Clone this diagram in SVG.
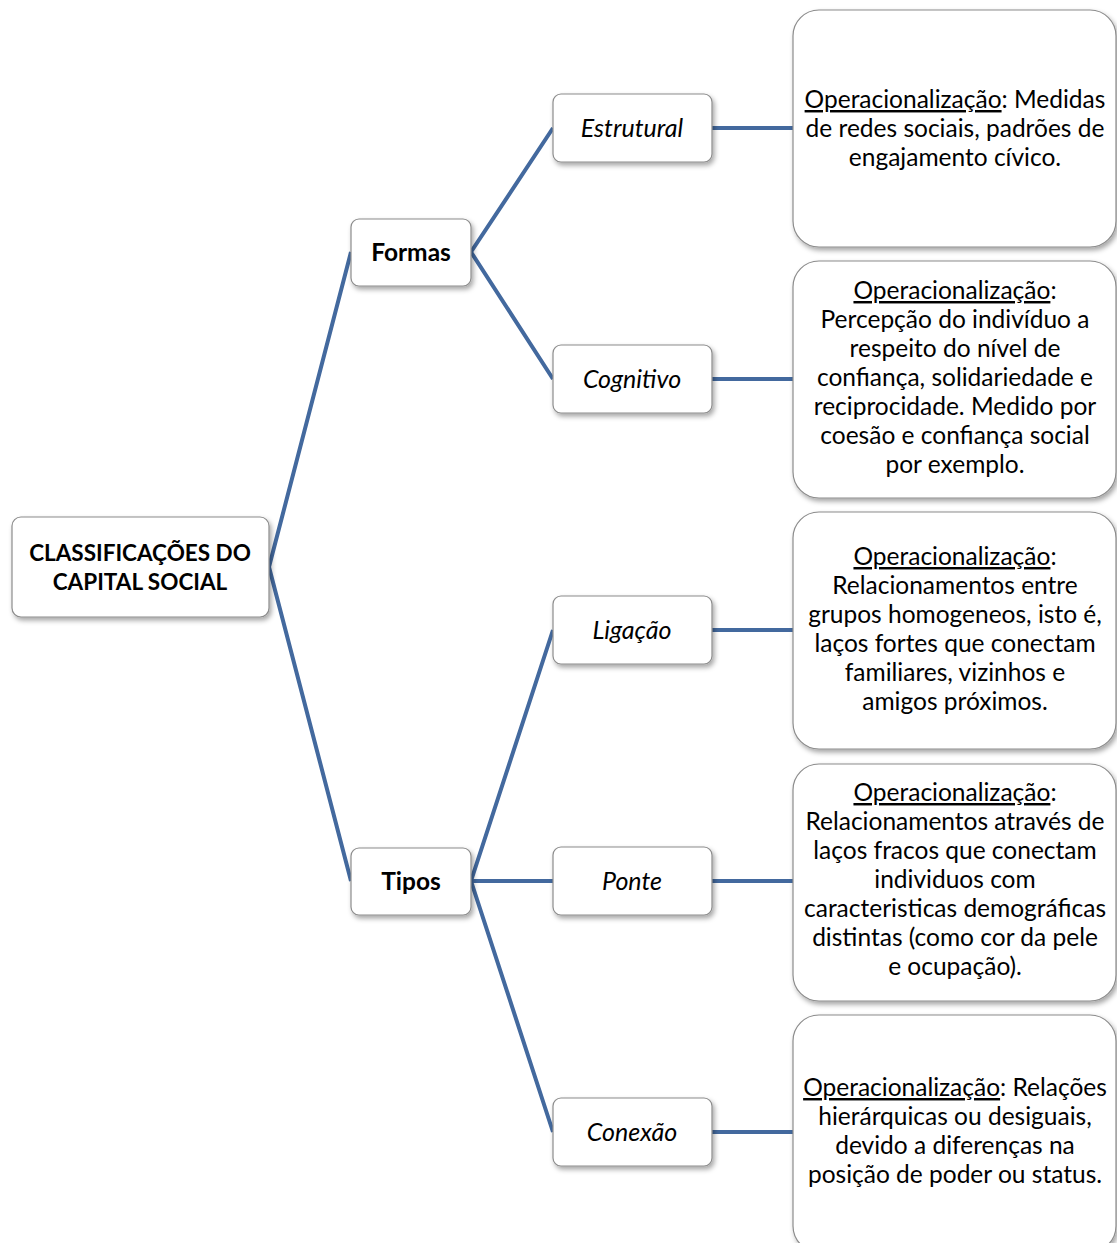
<svg xmlns="http://www.w3.org/2000/svg" width="1117" height="1243" viewBox="0 0 1117 1243">
<style>
.box{fill:#ffffff;stroke:#8c8c8c;stroke-width:1.2;filter:url(#sh)}
.t{font-family:Lato,"Liberation Sans",sans-serif;font-size:24.5px;fill:#000;text-anchor:middle}
.b{font-weight:bold}
.r{font-size:22.5px}
.m{font-size:24.5px}
.i{font-style:italic;font-size:25px}
.u{text-decoration:underline}
.c{fill:none;stroke:#43699E;stroke-width:4;stroke-linejoin:miter}
</style>
<defs>
<filter id="sh" x="-10%" y="-10%" width="130%" height="130%">
<feDropShadow dx="2" dy="3" stdDeviation="2.5" flood-color="#000" flood-opacity="0.35"/>
</filter>
</defs>
<rect width="1117" height="1243" fill="#ffffff"/>
<g id="connectors">
<polyline class="c" points="351,252 269,567 351,881"/>
<polyline class="c" points="553,128 471,252 553,379"/>
<polyline class="c" points="553,630 471,881 553,1132"/>
<line class="c" x1="471" y1="881" x2="553" y2="881"/>
<line class="c" x1="712" y1="128" x2="793" y2="128"/>
<line class="c" x1="712" y1="379" x2="793" y2="379"/>
<line class="c" x1="712" y1="630" x2="793" y2="630"/>
<line class="c" x1="712" y1="881" x2="793" y2="881"/>
<line class="c" x1="712" y1="1132" x2="793" y2="1132"/>
</g>
<g id="root">
<rect class="box" x="12" y="517" width="257" height="100" rx="9"/>
<text class="t b r" x="140" y="561">CLASSIFICAÇÕES DO</text>
<text class="t b r" x="140" y="590">CAPITAL SOCIAL</text>
</g>
<g id="formas">
<rect class="box" x="351" y="219" width="120" height="67" rx="8"/>
<text class="t b m" x="411" y="261">Formas</text>
</g>
<g id="tipos">
<rect class="box" x="351" y="848" width="120" height="67" rx="8"/>
<text class="t b m" x="411" y="890">Tipos</text>
</g>
<g id="estrutural">
<rect class="box" x="553" y="94" width="159" height="68" rx="8"/>
<text class="t i" x="632" y="137">Estrutural</text>
</g>
<g id="cognitivo">
<rect class="box" x="553" y="345" width="159" height="68" rx="8"/>
<text class="t i" x="632" y="388">Cognitivo</text>
</g>
<g id="ligacao">
<rect class="box" x="553" y="596" width="159" height="68" rx="8"/>
<text class="t i" x="632" y="639">Ligação</text>
</g>
<g id="ponte">
<rect class="box" x="553" y="847" width="159" height="68" rx="8"/>
<text class="t i" x="632" y="890">Ponte</text>
</g>
<g id="conexao">
<rect class="box" x="553" y="1098" width="159" height="68" rx="8"/>
<text class="t i" x="632" y="1141">Conexão</text>
</g>
<g id="op-estrutural">
<rect class="box" x="793" y="10" width="323" height="237" rx="26"/>
<text class="t" x="955" y="108"><tspan class="u">Operacionalização</tspan>: Medidas</text>
<text class="t" x="955" y="137">de redes sociais, padrões de</text>
<text class="t" x="955" y="166">engajamento cívico.</text>
</g>
<g id="op-cognitivo">
<rect class="box" x="793" y="261" width="323" height="237" rx="26"/>
<text class="t" x="955" y="299"><tspan class="u">Operacionalização</tspan>:</text>
<text class="t" x="955" y="328">Percepção do indivíduo a</text>
<text class="t" x="955" y="357">respeito do nível de</text>
<text class="t" x="955" y="386">confiança, solidariedade e</text>
<text class="t" x="955" y="415">reciprocidade. Medido por</text>
<text class="t" x="955" y="444">coesão e confiança social</text>
<text class="t" x="955" y="473">por exemplo.</text>
</g>
<g id="op-ligacao">
<rect class="box" x="793" y="512" width="323" height="237" rx="26"/>
<text class="t" x="955" y="565"><tspan class="u">Operacionalização</tspan>:</text>
<text class="t" x="955" y="594">Relacionamentos entre</text>
<text class="t" x="955" y="623">grupos homogeneos, isto é,</text>
<text class="t" x="955" y="652">laços fortes que conectam</text>
<text class="t" x="955" y="681">familiares, vizinhos e</text>
<text class="t" x="955" y="710">amigos próximos.</text>
</g>
<g id="op-ponte">
<rect class="box" x="793" y="764" width="323" height="237" rx="26"/>
<text class="t" x="955" y="801"><tspan class="u">Operacionalização</tspan>:</text>
<text class="t" x="955" y="830">Relacionamentos através de</text>
<text class="t" x="955" y="859">laços fracos que conectam</text>
<text class="t" x="955" y="888">individuos com</text>
<text class="t" x="955" y="917">caracteristicas demográficas</text>
<text class="t" x="955" y="946">distintas (como cor da pele</text>
<text class="t" x="955" y="975">e ocupação).</text>
</g>
<g id="op-conexao">
<rect class="box" x="793" y="1015" width="323" height="237" rx="26"/>
<text class="t" x="955" y="1096"><tspan class="u">Operacionalização</tspan>: Relações</text>
<text class="t" x="955" y="1125">hierárquicas ou desiguais,</text>
<text class="t" x="955" y="1154">devido a diferenças na</text>
<text class="t" x="955" y="1183">posição de poder ou status.</text>
</g>
</svg>
